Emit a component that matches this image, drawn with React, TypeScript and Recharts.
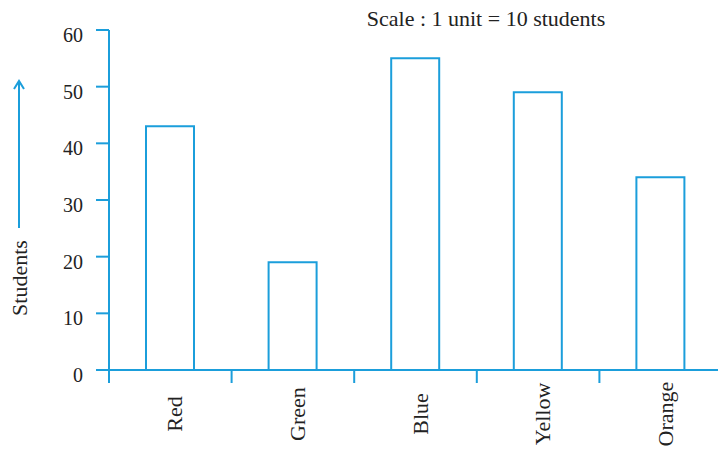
import { BarChart, Bar, XAxis, YAxis } from "recharts";

const categories = ["Red", "Green", "Blue", "Yellow", "Orange"];
const students = [43, 19, 55, 49, 34];
const yTicks = [0, 10, 20, 30, 40, 50, 60];
const title = "Scale : 1 unit = 10 students";
const yLabel = "Students";

const BLUE = "#1b9edb";
const INK = "#222";
const FONT = '"Liberation Serif", "Times New Roman", serif';

const CHART_W = 730;
const CHART_H = 451;
const MARGIN = { top: 30, right: 8, left: 0, bottom: 0 };
const Y_AXIS_W = 109;
const X_AXIS_H = 81;
const AXIS_Y = CHART_H - MARGIN.bottom - X_AXIS_H;
const BAND = (CHART_W - MARGIN.left - MARGIN.right - Y_AXIS_W) / categories.length;

const data = categories.map((name, i) => ({ name, students: students[i] }));

// eslint-disable-next-line @typescript-eslint/no-explicit-any
function YTick(props: any) {
  const { x, y, payload } = props;
  return (
    <text x={x} y={y} dy={12} textAnchor="end" fontSize={20} fontFamily={FONT} fill={INK}>
      {payload.value}
    </text>
  );
}

// category label at the band centre, tick marks on the band edges
// eslint-disable-next-line @typescript-eslint/no-explicit-any
function XTick(props: any) {
  const { x, payload, index } = props;
  const cy = AXIS_Y + 44;
  const tx = x + 12;
  const left = x - BAND / 2;
  const right = x + BAND / 2;
  return (
    <g>
      <line x1={left} y1={AXIS_Y} x2={left} y2={AXIS_Y + 13} stroke={BLUE} strokeWidth={2} />
      {index === categories.length - 1 && (
        <line x1={right} y1={AXIS_Y} x2={right} y2={AXIS_Y + 13} stroke={BLUE} strokeWidth={2} />
      )}
      <text
        x={tx}
        y={cy}
        transform={`rotate(-90, ${tx}, ${cy})`}
        textAnchor="middle"
        fontSize={22}
        fontFamily={FONT}
        fill={INK}
      >
        {payload.value}
      </text>
    </g>
  );
}

// eslint-disable-next-line @typescript-eslint/no-explicit-any
function StudentsLabel(props: any) {
  const vb = props.viewBox ?? { x: 0, y: 30 };
  const ax = vb.x + 19;
  const tx = vb.x + 27;
  const ty = vb.y + 248;
  return (
    <g>
      <line x1={ax} y1={vb.y + 198} x2={ax} y2={vb.y + 51} stroke={BLUE} strokeWidth={2} />
      <polyline
        points={`${ax - 5},${vb.y + 59} ${ax},${vb.y + 51} ${ax + 5},${vb.y + 59}`}
        fill="none"
        stroke={BLUE}
        strokeWidth={2}
      />
      <text
        x={tx}
        y={ty}
        transform={`rotate(-90, ${tx}, ${ty})`}
        textAnchor="middle"
        fontSize={22}
        fontFamily={FONT}
        fill={INK}
      >
        {yLabel}
      </text>
    </g>
  );
}

export default function App() {
  return (
    <div
      style={{
        position: "absolute",
        left: 0,
        top: 0,
        width: 718,
        height: 451,
        overflow: "hidden",
        background: "#fff",
      }}
    >
      <BarChart width={CHART_W} height={CHART_H} data={data} margin={MARGIN}>
        <XAxis
          dataKey="name"
          height={X_AXIS_H}
          axisLine={{ stroke: BLUE, strokeWidth: 2 }}
          tickLine={false}
          interval={0}
          tick={<XTick />}
        />
        <YAxis
          width={Y_AXIS_W}
          domain={[0, 60]}
          ticks={yTicks}
          tickSize={13}
          tickMargin={13}
          tick={<YTick />}
          tickLine={{ stroke: BLUE, strokeWidth: 2 }}
          axisLine={{ stroke: BLUE, strokeWidth: 2 }}
          label={{ content: <StudentsLabel /> }}
        />
        <Bar
          dataKey="students"
          barSize={48}
          fill="#fff"
          stroke={BLUE}
          strokeWidth={2}
          isAnimationActive={false}
        />
      </BarChart>
      <svg width={718} height={451} style={{ position: "absolute", left: 0, top: 0, pointerEvents: "none" }}>
        <text x={486} y={26} textAnchor="middle" fontSize={22} fontFamily={FONT} fill={INK}>
          {title}
        </text>
      </svg>
    </div>
  );
}
